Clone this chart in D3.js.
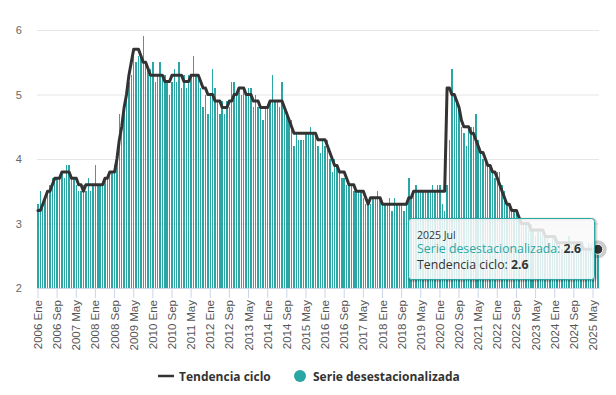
<!DOCTYPE html>
<html>
<head>
<meta charset="utf-8">
<script src="https://cdn.jsdelivr.net/npm/d3@7"></script>
<style>
body { margin: 0; background: #fff; font-family: 'Open Sans', sans-serif; }
svg { display: block; }
</style>
</head>
<body>
<div id="chart"></div>
<script>
// axis labels
var monthNames = ['Ene', 'Feb', 'Mar', 'Abr', 'May', 'Jun', 'Jul', 'Ago', 'Sep', 'Oct', 'Nov', 'Dic'];
var startYear = 2006;
var yTicks = [2, 3, 4, 5, 6];
var tickEvery = 8;
// serie desestacionalizada, one row per year (2006 Ene .. 2025 Jul)
var serie = [
  3.3, 3.5, 3.3, 3.4, 3.5, 3.6, 3.7, 3.7, 3.7, 3.7, 3.8, 3.7,
  3.9, 3.9, 3.7, 3.7, 3.6, 3.5, 3.5, 3.6, 3.5, 3.7, 3.5, 3.6,
  3.9, 3.6, 3.6, 3.6, 3.7, 3.7, 3.8, 3.8, 3.9, 4.1, 4.7, 4.5,
  4.7, 5.0, 5.2, 5.3, 5.7, 5.5, 5.6, 5.6, 5.9, 5.5, 5.4, 5.4,
  5.5, 5.2, 5.3, 5.5, 5.3, 5.3, 5.2, 5.0, 5.2, 5.4, 5.2, 5.5,
  5.1, 5.3, 5.1, 5.3, 5.3, 5.6, 5.3, 5.3, 5.1, 4.8, 5.0, 4.7,
  5.0, 5.4, 5.1, 4.9, 4.7, 4.9, 4.7, 4.9, 4.8, 5.2, 5.2, 5.0,
  5.1, 5.0, 5.1, 5.0, 5.1, 5.1, 4.8, 5.0, 4.8, 4.8, 4.6, 4.8,
  4.8, 4.9, 5.3, 4.9, 4.9, 4.8, 5.2, 4.8, 4.7, 4.6, 4.6, 4.2,
  4.4, 4.3, 4.3, 4.3, 4.4, 4.4, 4.5, 4.4, 4.4, 4.2, 4.1, 4.3,
  4.2, 4.3, 4.0, 3.8, 4.0, 3.9, 3.8, 3.7, 3.7, 3.6, 3.6, 3.6,
  3.5, 3.5, 3.5, 3.5, 3.4, 3.3, 3.3, 3.3, 3.4, 3.4, 3.5, 3.4,
  3.3, 3.3, 3.3, 3.4, 3.2, 3.4, 3.3, 3.3, 3.3, 3.2, 3.3, 3.7,
  3.4, 3.5, 3.6, 3.5, 3.5, 3.5, 3.5, 3.5, 3.5, 3.6, 3.5, 3.6,
  3.6, 3.3, 3.2, 3.6, 4.3, 5.4, 5.0, 4.9, 4.8, 4.5, 4.4, 4.2,
  4.5, 4.5, 4.5, 4.7, 4.3, 4.1, 4.0, 4.0, 3.9, 3.9, 3.8, 3.7,
  3.8, 3.8, 3.6, 3.5, 3.3, 3.3, 3.2, 3.2, 3.2, 3.1, 3.0, 3.0,
  3.0, 2.9, 3.0, 2.9, 2.8, 2.9, 2.9, 2.8, 2.8, 2.8, 2.7, 2.8,
  2.8, 2.7, 2.7, 2.6, 2.7, 2.7, 2.8, 2.7, 2.7, 2.6, 2.7, 2.7,
  2.6, 2.6, 2.7, 2.6, 2.6, 2.6, 2.6
];
// tendencia ciclo, same months
var tendencia = [
  3.2, 3.2, 3.3, 3.4, 3.5, 3.5, 3.6, 3.7, 3.7, 3.7, 3.8, 3.8,
  3.8, 3.8, 3.7, 3.7, 3.7, 3.6, 3.6, 3.5, 3.6, 3.6, 3.6, 3.6,
  3.6, 3.6, 3.6, 3.6, 3.7, 3.7, 3.8, 3.8, 3.8, 4.0, 4.3, 4.5,
  4.8, 5.0, 5.3, 5.5, 5.7, 5.7, 5.7, 5.6, 5.5, 5.5, 5.4, 5.3,
  5.3, 5.3, 5.3, 5.3, 5.3, 5.2, 5.2, 5.2, 5.3, 5.3, 5.3, 5.3,
  5.3, 5.2, 5.2, 5.2, 5.3, 5.3, 5.3, 5.3, 5.2, 5.1, 5.1, 5.0,
  5.0, 5.0, 4.9, 4.9, 4.9, 4.8, 4.8, 4.8, 4.9, 4.9, 5.0, 5.0,
  5.1, 5.1, 5.1, 5.0, 5.0, 5.0, 4.9, 4.9, 4.9, 4.8, 4.8, 4.8,
  4.8, 4.9, 4.9, 4.9, 4.9, 4.9, 4.9, 4.8, 4.7, 4.6, 4.5, 4.4,
  4.4, 4.4, 4.4, 4.4, 4.4, 4.4, 4.4, 4.4, 4.4, 4.3, 4.3, 4.3,
  4.3, 4.2, 4.1, 4.0, 3.9, 3.9, 3.8, 3.8, 3.8, 3.7, 3.6, 3.6,
  3.6, 3.5, 3.5, 3.5, 3.5, 3.4, 3.3, 3.4, 3.4, 3.4, 3.4, 3.4,
  3.3, 3.3, 3.3, 3.3, 3.3, 3.3, 3.3, 3.3, 3.3, 3.3, 3.3, 3.4,
  3.4, 3.5, 3.5, 3.5, 3.5, 3.5, 3.5, 3.5, 3.5, 3.5, 3.5, 3.5,
  3.5, 3.5, 3.5, 5.1, 5.1, 5.0, 5.0, 4.9, 4.8, 4.6, 4.5, 4.5,
  4.5, 4.4, 4.4, 4.3, 4.2, 4.1, 4.1, 4.0, 3.9, 3.9, 3.8, 3.8,
  3.7, 3.6, 3.5, 3.4, 3.3, 3.3, 3.2, 3.2, 3.2, 3.1, 3.0, 3.0,
  3.0, 3.0, 2.9, 2.9, 2.9, 2.9, 2.9, 2.9, 2.8, 2.8, 2.8, 2.8,
  2.8, 2.7, 2.7, 2.7, 2.7, 2.7, 2.7, 2.7, 2.7, 2.7, 2.7, 2.7,
  2.6, 2.6, 2.6, 2.6, 2.6, 2.6, 2.6
];
var seriesNames = ['Tendencia ciclo', 'Serie desestacionalizada'];

var TEAL = '#2aa7a4';
var DARK = '#333333';

function monthLabel (i) {
  return (startYear + Math.floor(i / 12)) + ' ' + monthNames[i % 12];
}

function draw () {
  var width = 616;
  var height = 395;
  var plot = { left: 36.8, right: 599, top: 30, bottom: 288 };
  var svg = d3.select('#chart').append('svg')
    .attr('width', width)
    .attr('height', height)
    .style('font-family', "'Open Sans', sans-serif");

  var idx = d3.range(serie.length);
  var x = d3.scaleBand().domain(idx).range([plot.left, plot.right]);
  var y = d3.scaleLinear().domain([d3.min(yTicks), d3.max(yTicks)]).range([plot.bottom, plot.top]);
  var bw = x.bandwidth();
  var barW = bw * 0.6;
  function cx (i) { return x(i) + bw / 2; }

  // grid + y labels
  var yAxis = d3.axisLeft(y)
    .tickValues(yTicks)
    .tickSize(-(plot.right - plot.left))
    .tickPadding(15)
    .tickFormat(d3.format('d'));
  var gy = svg.append('g')
    .attr('transform', 'translate(' + plot.left + ',0)')
    .call(yAxis);
  gy.select('.domain').remove();
  gy.selectAll('line').attr('stroke', '#e6e6e6');
  gy.selectAll('text')
    .attr('fill', '#666')
    .style('font-size', '11px');

  // bars
  svg.append('g')
    .attr('shape-rendering', 'crispEdges')
    .selectAll('rect')
    .data(idx)
    .enter().append('rect')
    .attr('x', function (i) { return x(i) + (bw - barW) / 2; })
    .attr('width', barW)
    .attr('y', function (i) { return y(serie[i]); })
    .attr('height', function (i) { return y(yTicks[0]) - y(serie[i]); })
    .attr('fill', TEAL);

  // x axis
  var xAxis = d3.axisBottom(x)
    .tickValues(idx.filter(function (i) { return i % tickEvery === 0; }))
    .tickSize(10)
    .tickSizeOuter(0)
    .tickFormat(monthLabel);
  var gx = svg.append('g')
    .attr('transform', 'translate(0,' + plot.bottom + ')')
    .call(xAxis);
  gx.select('.domain').attr('stroke', '#ccd6eb');
  gx.selectAll('line').attr('stroke', '#ccd6eb');
  gx.selectAll('text')
    .attr('transform', 'rotate(-90)')
    .attr('x', -12)
    .attr('y', 0)
    .attr('dy', '0.35em')
    .style('text-anchor', 'end')
    .style('font-size', '11.5px')
    .attr('fill', '#555');

  // trend line
  var line = d3.line()
    .x(function (d, i) { return cx(i); })
    .y(function (d) { return y(d); });
  svg.append('path')
    .datum(tendencia)
    .attr('d', line)
    .attr('fill', 'none')
    .attr('stroke', DARK)
    .attr('stroke-width', 3)
    .attr('stroke-linejoin', 'round')
    .attr('stroke-linecap', 'round');

  // legend
  var lg = svg.append('g').attr('transform', 'translate(0,376)');
  lg.append('line')
    .attr('x1', 158).attr('x2', 174)
    .attr('y1', 0).attr('y2', 0)
    .attr('stroke', DARK).attr('stroke-width', 2.5);
  lg.append('text')
    .attr('x', 179).attr('y', 4.5)
    .attr('fill', DARK)
    .style('font-size', '12px').style('font-weight', 'bold')
    .text(seriesNames[0]);
  lg.append('circle')
    .attr('cx', 300).attr('cy', 0).attr('r', 6)
    .attr('fill', TEAL);
  lg.append('text')
    .attr('x', 313).attr('y', 4.5)
    .attr('fill', DARK)
    .style('font-size', '12px').style('font-weight', 'bold')
    .text(seriesNames[1]);

  // hover state on the last month
  var last = serie.length - 1;
  var hx = cx(last);
  var hy = y(tendencia[last]);
  svg.append('circle')
    .attr('cx', hx).attr('cy', hy).attr('r', 9)
    .attr('fill', DARK).attr('fill-opacity', 0.25);
  svg.append('circle')
    .attr('cx', hx).attr('cy', hy).attr('r', 5)
    .attr('fill', DARK).attr('stroke', '#fff').attr('stroke-width', 1);

  // tooltip
  var tip = svg.append('g').attr('transform', 'translate(408.5,218.5)');
  [5, 3, 1].forEach(function (w, k) {
    tip.append('rect')
      .attr('x', 1).attr('y', 1)
      .attr('width', 186).attr('height', 61).attr('rx', 3)
      .attr('fill', 'none')
      .attr('stroke', '#000')
      .attr('stroke-opacity', 0.05 * (k + 1))
      .attr('stroke-width', w);
  });
  tip.append('rect')
    .attr('width', 186).attr('height', 61).attr('rx', 3)
    .attr('fill', '#f9f9f9').attr('fill-opacity', 0.86)
    .attr('stroke', TEAL).attr('stroke-width', 1);
  tip.append('text')
    .attr('x', 8.5).attr('y', 20)
    .attr('fill', DARK)
    .style('font-size', '10.5px')
    .text(monthLabel(last));
  var t1 = tip.append('text')
    .attr('x', 8.5).attr('y', 34.5)
    .style('font-size', '12.3px');
  t1.append('tspan').attr('fill', TEAL).text(seriesNames[1] + ': ');
  t1.append('tspan').attr('fill', DARK).style('font-weight', 'bold').text(serie[last].toFixed(1));
  var t2 = tip.append('text')
    .attr('x', 8.5).attr('y', 50)
    .style('font-size', '12.3px');
  t2.append('tspan').attr('fill', DARK).text(seriesNames[0] + ': ');
  t2.append('tspan').attr('fill', DARK).style('font-weight', 'bold').text(tendencia[last].toFixed(1));
}

window.addEventListener('load', function () {
  draw();
});
</script>
</body>
</html>
